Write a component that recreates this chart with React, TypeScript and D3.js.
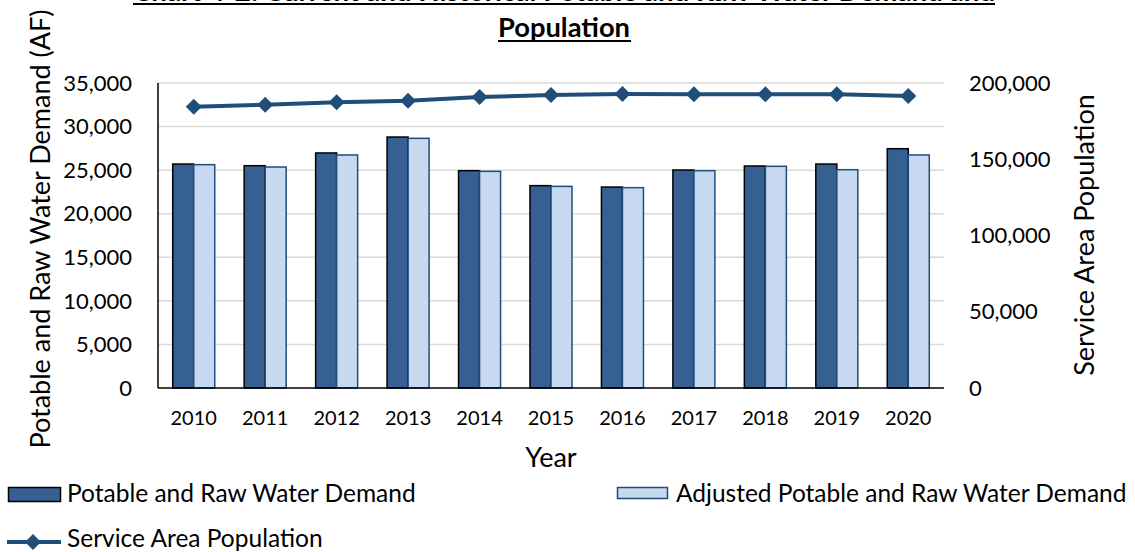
import React from "react";
import * as d3 from "d3";

const years = ["2010","2011","2012","2013","2014","2015","2016","2017","2018","2019","2020"];
const demand = [25700,25510,26970,28800,24940,23220,23060,25015,25475,25700,27460];
const adjusted = [25630,25360,26740,28650,24860,23140,22990,24940,25440,25050,26740];
const population = [184400,185800,187300,188400,190800,192100,192800,192600,192600,192600,191500];
const leftTicks = [0,5000,10000,15000,20000,25000,30000,35000];
const rightTicks = [0,50000,100000,150000,200000];

const W = 1135, H = 552;
const FONT = "Lato, 'Open Sans', sans-serif";
const DARK = "#376092";
const LIGHT = "#C6D9F0";
const LINE = "#1F4E79";

export default function App() {
  const left = 158, right = 944, top = 83, bottom = 388;
  const x = d3.scaleBand<string>().domain(years).range([left, right]).paddingInner(0.412).paddingOuter(0.206);
  const xs = d3.scaleBand<string>().domain(["a","b"]).range([0, x.bandwidth()]);
  const y = d3.scaleLinear().domain([0, 35000]).range([bottom, top]);
  const y2 = d3.scaleLinear().domain([0, 200000]).range([bottom, top]);
  const fmt = d3.format(",");
  const line = d3.line<number>().x((_, i) => (x(years[i]) as number) + x.bandwidth() / 2).y((d) => y2(d));
  const diamond = (cx: number, cy: number, r: number) => `M${cx},${cy - r}L${cx + r},${cy}L${cx},${cy + r}L${cx - r},${cy}Z`;

  return (
    <svg width={W} height={H} style={{ display: "block", position: "absolute", left: 0, top: 0 }} fontFamily={FONT}>
      <rect width={W} height={H} fill="#fff" />
      {/* Title */}
      <text x={564} y={1} textAnchor="middle" fontSize={26} fontWeight="bold" textLength={862} lengthAdjust="spacingAndGlyphs">Chart 4-2: Current and Historical Potable and Raw Water Demand and</text>
      <line x1={133} x2={995} y1={4} y2={4} stroke="#000" strokeWidth={2} />
      <text x={564} y={37} textAnchor="middle" fontSize={27} fontWeight="bold" textLength={132} lengthAdjust="spacingAndGlyphs">Population</text>
      <line x1={498} x2={631} y1={41} y2={41} stroke="#000" strokeWidth={2} />

      {/* Gridlines */}
      {leftTicks.filter((t) => t > 0).map((t) => (
        <line key={t} x1={left} x2={right} y1={y(t)} y2={y(t)} stroke="#D9D9D9" strokeWidth={1.5} />
      ))}

      {/* Bars */}
      {years.map((yr, i) => {
        const x0 = x(yr) as number;
        return (
          <g key={yr}>
            <rect x={x0 + (xs("a") as number)} y={y(demand[i])} width={xs.bandwidth()} height={bottom - y(demand[i])} fill={DARK} stroke="#000" strokeWidth={1.5} />
            <rect x={x0 + (xs("b") as number)} y={y(adjusted[i])} width={xs.bandwidth()} height={bottom - y(adjusted[i])} fill={LIGHT} stroke={LINE} strokeWidth={1.5} />
          </g>
        );
      })}

      {/* Axes */}
      <line x1={left} x2={left} y1={top} y2={bottom} stroke="#000" strokeWidth={1.5} />
      <line x1={left} x2={right} y1={bottom} y2={bottom} stroke="#000" strokeWidth={1.5} />

      {/* Population line */}
      <path d={line(population) || ""} fill="none" stroke={LINE} strokeWidth={4} />
      {population.map((p, i) => (
        <path key={i} d={diamond((x(years[i]) as number) + x.bandwidth() / 2, y2(p), 8)} fill={LINE} />
      ))}

      {/* Left ticks */}
      {leftTicks.map((t) => (
        <text key={t} x={132} y={y(t)} dy="0.35em" textAnchor="end" fontSize={22}>{fmt(t)}</text>
      ))}
      {/* Right ticks */}
      {rightTicks.map((t) => (
        <text key={t} x={969} y={y2(t)} dy="0.35em" textAnchor="start" fontSize={22}>{fmt(t)}</text>
      ))}
      {/* Year labels */}
      {years.map((yr) => (
        <text key={yr} x={(x(yr) as number) + x.bandwidth() / 2} y={425} textAnchor="middle" fontSize={20}>{yr}</text>
      ))}

      {/* Axis titles */}
      <text x={551} y={467} textAnchor="middle" fontSize={27}>Year</text>
      <text transform={`translate(50,229) rotate(-90)`} textAnchor="middle" fontSize={27}>Potable and Raw Water Demand (AF)</text>
      <text transform={`translate(1094,235) rotate(-90)`} textAnchor="middle" fontSize={27}>Service Area Population</text>

      {/* Legend */}
      <rect x={8.5} y={487.5} width={52} height={14} fill={DARK} stroke="#000" strokeWidth={1.5} />
      <text x={67} y={502} fontSize={24.5}>Potable and Raw Water Demand</text>
      <rect x={617.5} y={487.5} width={50} height={11} fill={LIGHT} stroke={LINE} strokeWidth={1.5} />
      <text x={676} y={502} fontSize={24.5}>Adjusted Potable and Raw Water Demand</text>
      <line x1={7} x2={61} y1={542} y2={542} stroke={LINE} strokeWidth={4} />
      <path d={diamond(33, 542, 8)} fill={LINE} />
      <text x={67} y={547} fontSize={24.5}>Service Area Population</text>
    </svg>
  );
}
